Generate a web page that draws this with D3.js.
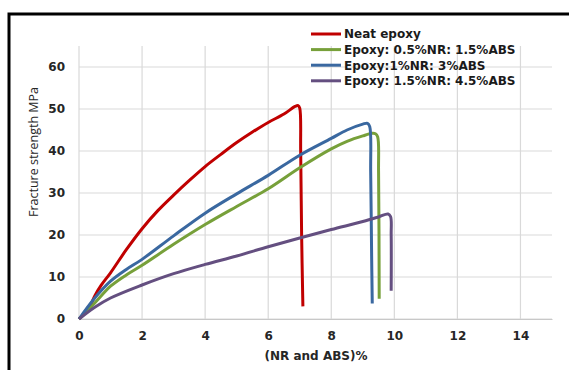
<!DOCTYPE html>
<html>
<head>
<meta charset="utf-8">
<script src="https://cdn.jsdelivr.net/npm/d3@7"></script>
<style>
  body { margin: 0; background: #fff; }
  svg { display: block; }
  .tick text { font-family: "DejaVu Sans", Verdana, sans-serif; font-weight: bold; font-size: 12px; fill: #262626; }
</style>
</head>
<body>
<div id="chart"></div>
<script>
// data: [strain %, stress MPa]
var seriesNames = ["Neat epoxy", "Epoxy: 0.5%NR: 1.5%ABS", "Epoxy:1%NR: 3%ABS", "Epoxy: 1.5%NR: 4.5%ABS"];
var seriesColors = ["#c00000", "#77a03a", "#3a68a0", "#644f80"];

var neat = [[0,0],[0.2,1.5],[0.35,3],[0.5,5.5],[0.7,8],[1,11],[1.5,16.5],[2,21.5],[2.5,25.8],[3,29.5],
  [3.5,33],[4,36.3],[4.5,39.2],[5,42],[5.5,44.5],[6,46.8],[6.5,48.8],[6.85,50.6],[6.95,50.8],[7.0,50.2],
  [7.03,40],[7.06,20],[7.1,3]];
var nr05 = [[0,0],[0.5,3.8],[1,7.8],[1.5,10.5],[2,12.8],[3,17.8],[4,22.5],[5,26.8],[6,31],[7,36],
  [8,40.5],[8.5,42.3],[9,43.6],[9.3,44.2],[9.4,44.1],[9.47,43.4],[9.5,35],[9.52,4.8]];
var nr1 = [[0,0],[0.5,5],[1,9],[1.5,11.8],[2,14.2],[3,19.8],[4,25.2],[5,29.8],[6,34.2],[7,39],
  [8,43],[8.5,45],[9,46.4],[9.15,46.6],[9.22,45.8],[9.25,35],[9.28,15],[9.3,3.7]];
var nr15 = [[0,0],[0.5,2.8],[1,5],[2,8.1],[3,10.8],[4,13],[5,15],[6,17.2],[7,19.3],[8,21.3],
  [9,23.2],[9.5,24.3],[9.8,25],[9.88,24.4],[9.9,20],[9.9,6.7]];
var allSeries = [neat, nr05, nr1, nr15];

var xTicks = [0, 2, 4, 6, 8, 10, 12, 14];
var yTicks = [0, 10, 20, 30, 40, 50, 60];

var width = 569, height = 370;
var svg = d3.select("#chart").append("svg")
    .attr("width", width)
    .attr("height", height);

// outer frame (runs off right and bottom)
svg.append("rect")
    .attr("x", 9).attr("y", 14)
    .attr("width", 600).attr("height", 400)
    .attr("fill", "none").attr("stroke", "#000").attr("stroke-width", 3);

var x = d3.scaleLinear().domain([0, 15]).range([79, 552]);
var y = d3.scaleLinear().domain([0, 65]).range([319, 46]);

// grid
svg.append("g").selectAll("line").data(yTicks)
  .enter().append("line")
    .attr("x1", x(0)).attr("x2", x(15))
    .attr("y1", function(d) { return y(d); }).attr("y2", function(d) { return y(d); })
    .attr("stroke", "#d9d9d9").attr("stroke-width", 1.2);
svg.append("g").selectAll("line").data(xTicks)
  .enter().append("line")
    .attr("x1", function(d) { return x(d); }).attr("x2", function(d) { return x(d); })
    .attr("y1", y(0)).attr("y2", y(65))
    .attr("stroke", "#d9d9d9").attr("stroke-width", 1.2);

// axes
var xAxis = svg.append("g")
    .attr("transform", "translate(0," + y(0) + ")")
    .call(d3.axisBottom(x).tickValues(xTicks).tickSize(0).tickPadding(12));
xAxis.select(".domain").attr("stroke", "#c8c8c8");

var yAxis = svg.append("g")
    .attr("transform", "translate(" + x(0) + ",0)")
    .call(d3.axisLeft(y).tickValues(yTicks).tickSize(0).tickPadding(14));
yAxis.select(".domain").remove();

svg.append("text")
    .attr("x", 316).attr("y", 360)
    .attr("text-anchor", "middle")
    .style("font-family", "DejaVu Sans, Verdana, sans-serif")
    .style("font-weight", "bold").style("font-size", "12px").style("fill", "#262626")
    .text("(NR and ABS)%");

svg.append("text")
    .attr("transform", "translate(38,152) rotate(-90)")
    .attr("text-anchor", "middle")
    .style("font-family", "'Open Sans', sans-serif")
    .style("font-size", "12.5px").style("fill", "#262626")
    .text("Fracture strength MPa");

// curves
var line = d3.line()
    .x(function(d) { return x(d[0]); })
    .y(function(d) { return y(d[1]); })
    .curve(d3.curveCatmullRom.alpha(0.5));

svg.append("g").selectAll("path").data(allSeries)
  .enter().append("path")
    .attr("d", line)
    .attr("fill", "none")
    .attr("stroke", function(d, i) { return seriesColors[i]; })
    .attr("stroke-width", 3)
    .attr("stroke-linejoin", "round");

// legend
var legend = svg.append("g").selectAll("g").data(seriesNames)
  .enter().append("g")
    .attr("transform", function(d, i) { return "translate(311," + (34 + i * 15.6) + ")"; });
legend.append("line")
    .attr("x1", 0).attr("x2", 30)
    .attr("stroke", function(d, i) { return seriesColors[i]; })
    .attr("stroke-width", 3);
legend.append("text")
    .attr("x", 33).attr("dy", "0.36em")
    .style("font-family", "DejaVu Sans, Verdana, sans-serif")
    .style("font-weight", "bold").style("font-size", "12px")
    .style("fill", "#1a1a1a")
    .text(function(d) { return d; });
</script>
</body>
</html>
